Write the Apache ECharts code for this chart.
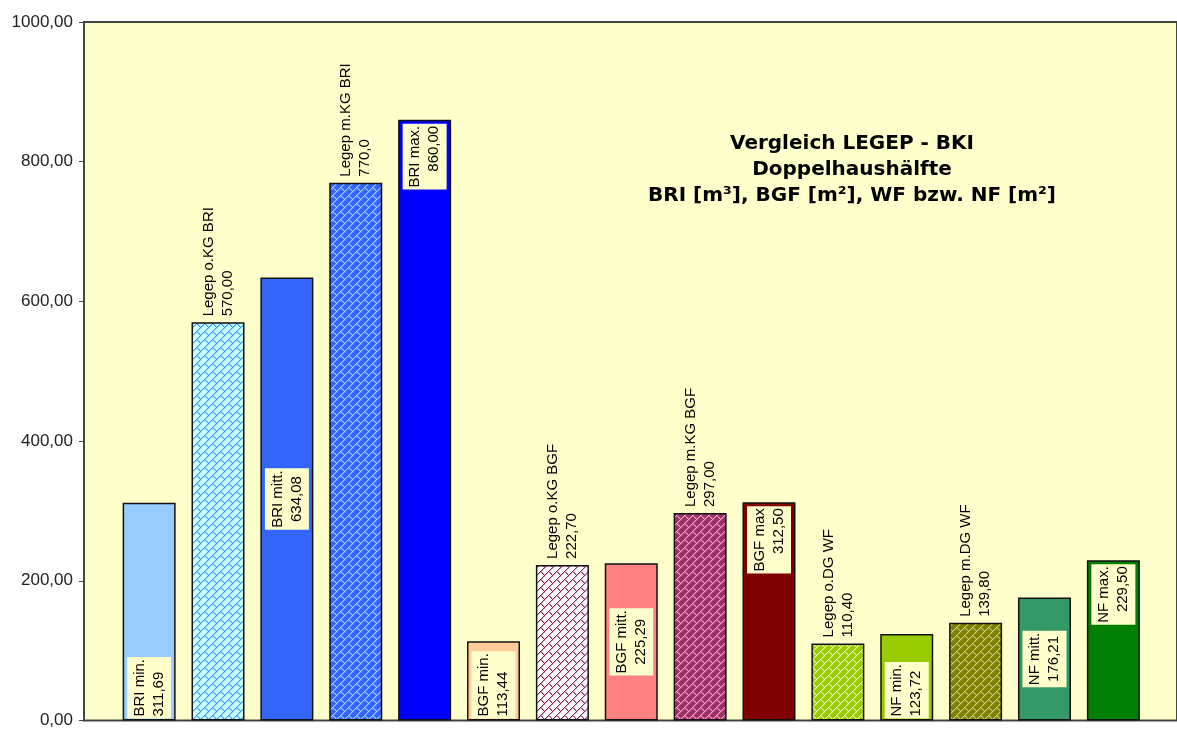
<!DOCTYPE html>
<html>
<head>
<meta charset="utf-8">
<script src="https://cdn.jsdelivr.net/npm/echarts@6/dist/echarts.min.js"></script>
<style>
html,body{margin:0;padding:0;background:#fff;overflow:hidden;width:100%;height:100%;}
#chart{width:100vw;height:100vh;}
</style>
</head>
<body>
<div id="chart"></div>
<script>
// ---- data ----
const categories = ['BRI min.', 'Legep o.KG BRI', 'BRI mitt.', 'Legep m.KG BRI', 'BRI max.',
  'BGF min.', 'Legep o.KG BGF', 'BGF mitt.', 'Legep m.KG BGF', 'BGF max',
  'Legep o.DG WF', 'NF min.', 'Legep m.DG WF', 'NF mitt.', 'NF max.'];
const values = [311.69, 570.00, 634.08, 770.0, 860.00,
  113.44, 222.70, 225.29, 297.00, 312.50,
  110.40, 123.72, 139.80, 176.21, 229.50];
const decimals = [2, 2, 2, 1, 2, 2, 2, 2, 2, 2, 2, 2, 2, 2, 2];
const labelPlacement = ['base', 'top', 'center', 'top', 'end',
  'base', 'top', 'center', 'top', 'end',
  'top', 'base', 'top', 'center', 'end'];
const titleLines = ['Vergleich LEGEP - BKI', 'Doppelhaushälfte', 'BRI [m³], BGF [m²], WF bzw. NF [m²]'];

// ---- styles ----
const barFills = ['#99CCFF', ['#CCFFFF', '#3399FF'], '#3366FF', ['#3366FF', '#A6CCFF'], '#0000FF',
  '#FFCC99', ['#FFFFFF', '#993366'], '#FF8080', ['#993366', '#FF99CC'], '#800000',
  ['#99CC00', '#E6F5A8'], '#99CC00', ['#808000', '#C8C880'], '#339966', '#008000'];
// upward diagonal brick bitmap (8x8), x positions of foreground pixels per row
const brickRows = [[7], [6], [5], [4], [5, 3], [6, 2], [7, 1], [0]];

function makePattern(bg, fg) {
  const c = document.createElement('canvas');
  c.width = 8; c.height = 8;
  const ctx = c.getContext('2d');
  ctx.fillStyle = bg; ctx.fillRect(0, 0, 8, 8);
  ctx.fillStyle = fg;
  brickRows.forEach((xs, y) => xs.forEach(x => ctx.fillRect(x, y, 1, 1)));
  ctx.globalAlpha = 0.45;
  brickRows.forEach((xs, y) => xs.forEach(x => ctx.fillRect((x + 1) % 8, y, 1, 1)));
  return c;
}
function fillFor(i) {
  const f = barFills[i];
  if (Array.isArray(f)) return { image: makePattern(f[0], f[1]), repeat: 'repeat' };
  return f;
}
const fmt = (v, d) => v.toFixed(d).replace('.', ',');

function labelFor(i) {
  const text = categories[i] + '\n' + fmt(values[i], decimals[i]);
  const base = {
    show: true, formatter: () => text, rotate: 90, fontSize: 15, lineHeight: 19,
    color: '#000', fontFamily: 'Liberation Sans, Arial, sans-serif'
  };
  const box = { backgroundColor: '#FFFFCC', padding: [3, 2, 3, 2] };
  switch (labelPlacement[i]) {
    case 'top': return Object.assign(base, { position: 'top', distance: 6, align: 'left', verticalAlign: 'middle' });
    case 'base': return Object.assign(base, box, { position: 'insideBottom', distance: 2, align: 'left', verticalAlign: 'middle' });
    case 'center': return Object.assign(base, box, { position: 'inside', align: 'center', verticalAlign: 'middle' });
    case 'end': return Object.assign(base, box, { position: 'insideTop', distance: 4, align: 'right', verticalAlign: 'middle' });
  }
}

const seriesData = values.map((v, i) => ({
  value: [i, v],
  itemStyle: { color: fillFor(i) },
  label: labelFor(i)
}));

const chart = echarts.init(document.getElementById('chart'));
chart.setOption({
  animation: false,
  backgroundColor: '#ffffff',
  title: {
    text: titleLines.join('\n'),
    left: 847, top: 126, textAlign: 'center',
    textStyle: { fontFamily: 'DejaVu Sans', fontWeight: 'bold', fontSize: 20, lineHeight: 26, color: '#000' }
  },
  grid: {
    left: 84, top: 22, right: -6, bottom: 2,
    show: true, backgroundColor: '#FFFFCC', borderColor: '#444', borderWidth: 2
  },
  xAxis: {
    type: 'value', min: -0.9458, max: 14.924, show: false
  },
  yAxis: {
    type: 'value', min: 0, max: 1000, interval: 200,
    axisLine: { show: true, onZero: false, lineStyle: { color: '#444', width: 2 } },
    axisTick: { show: true, length: 5, lineStyle: { color: '#444' } },
    splitLine: { show: false },
    axisLabel: {
      formatter: v => fmt(v, 2), fontSize: 17, color: '#222', margin: 11,
      fontFamily: 'Liberation Sans, Arial, sans-serif'
    }
  },
  series: [{
    type: 'bar',
    barWidth: 53,
    itemStyle: { borderColor: '#111', borderWidth: 1.5 },
    data: seriesData
  }]
});
</script>
</body>
</html>
